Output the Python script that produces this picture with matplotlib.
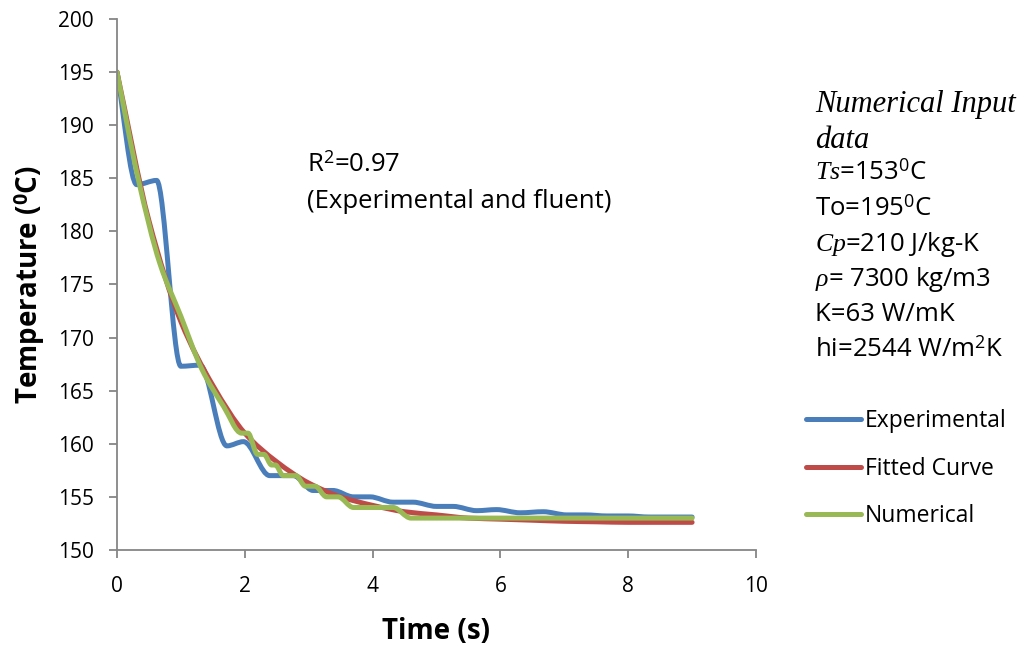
import numpy as np
import matplotlib
matplotlib.use('Agg')
import matplotlib.pyplot as plt
from matplotlib.path import Path
from matplotlib.patches import PathPatch
from matplotlib.lines import Line2D

plt.rcParams['font.family'] = ['Open Sans', 'DejaVu Sans']
plt.rcParams['mathtext.fontset'] = 'custom'
plt.rcParams['mathtext.rm'] = 'Open Sans'
plt.rcParams['mathtext.bf'] = 'Open Sans:bold'
plt.rcParams['mathtext.it'] = 'Liberation Serif:italic'

# experimental readings
exp_t = [0, 0.31, 0.62, 1.0, 1.3, 1.72, 1.98, 2.39, 2.76, 3.07, 3.38, 3.70,
         3.96, 4.32, 4.63, 5.0, 5.26, 5.63, 5.94, 6.31, 6.67, 7.04, 7.33,
         7.67, 8.0, 8.33, 8.67, 9.0]
exp_T = [195, 184.4, 184.8, 167.3, 167.4, 159.8, 160.2, 157.0, 157.0, 155.6,
         155.6, 155.0, 155.0, 154.5, 154.5, 154.1, 154.1, 153.7, 153.8, 153.5,
         153.6, 153.3, 153.3, 153.2, 153.2, 153.1, 153.1, 153.1]

# fitted curve
fit_t = [0, 0.5, 1, 1.5, 2, 2.5, 3, 3.5, 4, 4.5, 5, 5.5, 6, 6.5, 7, 7.5, 8,
         8.5, 9]
fit_T = [195, 181.0, 171.5, 165.5, 161.0, 158.3, 156.3, 155.0, 154.2, 153.6,
         153.3, 153.0, 152.9, 152.8, 152.7, 152.65, 152.6, 152.6, 152.6]

# numerical (fluent)
num_t = [0, 0.33, 0.67, 1.0, 1.33, 1.67, 1.95, 2.05, 2.2, 2.3, 2.42, 2.48,
         2.6, 2.8, 2.95, 3.1, 3.28, 3.46, 3.7, 4.32, 4.6, 9.0]
num_T = [195, 185, 177, 172, 167, 163.5, 161, 161, 159, 159, 158, 158, 157,
         157, 156, 156, 155, 155, 154, 154, 153, 153]

series = [('Experimental', exp_t, exp_T, '#4A7EBB'),
          ('Fitted Curve', fit_t, fit_T, '#BE4B48'),
          ('Numerical', num_t, num_T, '#98B954')]


def smooth_path(x, y):
    # smoothed line: monotone cubic segments drawn as beziers
    x = np.asarray(x, float)
    y = np.asarray(y, float)
    n = len(x)
    h = np.diff(x)
    s = np.diff(y) / h
    d = np.zeros(n)
    d[0] = s[0]
    d[-1] = s[-1]
    for i in range(1, n - 1):
        if s[i - 1] * s[i] > 0:
            w1 = 2 * h[i] + h[i - 1]
            w2 = h[i] + 2 * h[i - 1]
            d[i] = (w1 + w2) / (w1 / s[i - 1] + w2 / s[i])
    verts = [(x[0], y[0])]
    codes = [Path.MOVETO]
    for i in range(n - 1):
        k = h[i] / 3
        verts += [(x[i] + k, y[i] + d[i] * k),
                  (x[i + 1] - k, y[i + 1] - d[i + 1] * k),
                  (x[i + 1], y[i + 1])]
        codes += [Path.CURVE4] * 3
    return Path(verts, codes)


fig = plt.figure(figsize=(10.28, 6.47), dpi=100)
ax = fig.add_axes([0.1138, 0.150, 0.6216, 0.8206])

handles = []
for name, t, T, c in series:
    ax.add_patch(PathPatch(smooth_path(t, T), fill=False, edgecolor=c, lw=3.6,
                           capstyle='round', joinstyle='round'))
    handles.append(Line2D([], [], color=c, lw=3.6, solid_capstyle='round', label=name))

ax.set_xlim(0, 10)
ax.set_ylim(150, 200)
ax.set_xticks(np.arange(0, 11, 2))
ax.set_yticks(np.arange(150, 201, 5))
for s in ['top', 'right']:
    ax.spines[s].set_visible(False)
for s in ['left', 'bottom']:
    ax.spines[s].set_color('#868686')
    ax.spines[s].set_linewidth(1.3)
ax.tick_params(direction='out', length=5.5, width=1.3, color='#868686',
               labelsize=15)
ax.tick_params(axis='y', pad=11)
ax.tick_params(axis='x', pad=13)

ax.set_xlabel('Time (s)', fontsize=20, fontweight='bold', labelpad=15)
ax.set_ylabel(r'Temperature ($^{\mathbf{0}}$C)', fontsize=20, fontweight='bold', labelpad=8)

ax.text(0.297, 0.726, r'R$^{\mathrm{2}}$=0.97', transform=ax.transAxes, fontsize=18.5, va='center')
ax.text(0.297, 0.656, '(Experimental and fluent)', transform=ax.transAxes, fontsize=18.5, va='center')

# input data block on the right
fig.text(0.793, 0.839, 'Numerical Input', fontsize=22, family='Liberation Serif',
         style='italic', va='center')
fig.text(0.793, 0.783, 'data', fontsize=22, family='Liberation Serif',
         style='italic', va='center')
info = [r'$Ts$=153$^{\mathrm{0}}$C',
        r'To=195$^{\mathrm{0}}$C',
        r'$Cp$=210 J/kg-K',
        r'$\rho$= 7300 kg/m3',
        'K=63 W/mK',
        r'hi=2544 W/m$^{\mathrm{2}}$K']
for i, line in enumerate(info):
    fig.text(0.793, 0.722 - i * 0.0547, line, fontsize=18.5, va='baseline')

fig.legend(handles=handles, loc='upper left', bbox_to_anchor=(0.764, 0.399),
           frameon=False, fontsize=16.5, handlelength=2.4, handletextpad=0.17,
           labelspacing=1.01)

fig.savefig('out.png', dpi=100)
